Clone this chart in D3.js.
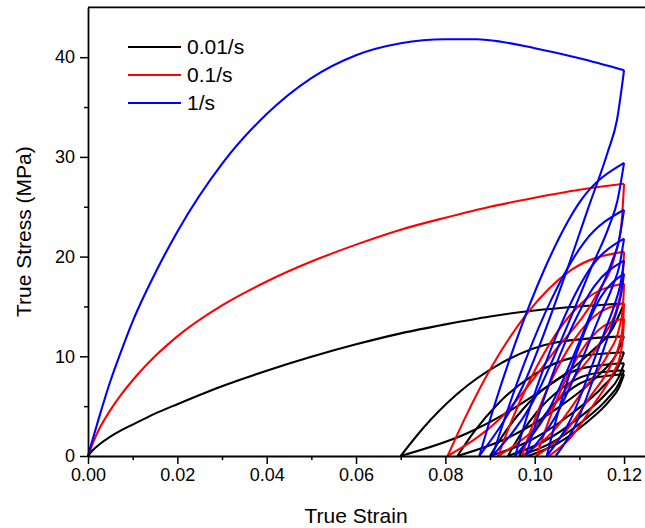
<!DOCTYPE html>
<html><head><meta charset="utf-8">
<script src="https://cdn.jsdelivr.net/npm/d3@7"></script>
<style>body{margin:0;background:#fff}svg{display:block}text{font-family:"Liberation Sans",Arial,sans-serif;fill:#000}</style>
</head><body><svg id="c" width="645" height="528"></svg>
<script>
// ---- data ----
const seriesNames = ["0.01/s", "0.1/s", "1/s"];
const seriesColors = ["#000000", "#ff0000", "#0000ff"];
const xTicks = [0, 0.02, 0.04, 0.06, 0.08, 0.10, 0.12];
const xMinor = [0.01, 0.03, 0.05, 0.07, 0.09, 0.11];
const yTicks = [0, 10, 20, 30, 40];
const yMinor = [5, 15, 25, 35];

// each segment: [strain, stress] points, strain ascending
const blackSegments = [
  [[0,0],[0.001,0.55],[0.0025,1.15],[0.005,1.95],[0.0075,2.6],[0.01,3.15],[0.015,4.25],[0.02,5.2],[0.03,7.0],[0.04,8.55],[0.05,9.95],[0.06,11.2],[0.07,12.3],[0.08,13.2],[0.09,14.0],[0.10,14.6],[0.11,15.0],[0.12,15.3]],
  [[0.0700,0],[0.0850,2.30],[0.1000,6.12],[0.1125,10.40],[0.1175,12.85],[0.12,15.3]],
  [[0.0700,0],[0.0750,2.78],[0.0825,6.16],[0.0925,9.31],[0.1050,11.41],[0.12,12.0]],
  [[0.0827,0],[0.0939,1.80],[0.1051,4.80],[0.1144,8.16],[0.1181,10.08],[0.12,12.0]],
  [[0.0827,0],[0.0864,2.41],[0.0920,5.34],[0.0995,8.07],[0.1088,9.89],[0.12,10.4]],
  [[0.0900,0],[0.0990,1.56],[0.1080,4.16],[0.1155,7.07],[0.1185,8.74],[0.12,10.4]],
  [[0.0900,0],[0.0930,2.16],[0.0975,4.77],[0.1035,7.22],[0.1110,8.84],[0.12,9.3]],
  [[0.0940,0],[0.1018,1.40],[0.1096,3.72],[0.1161,6.32],[0.1187,7.81],[0.12,9.3]],
  [[0.0940,0],[0.0966,2.00],[0.1005,4.41],[0.1057,6.67],[0.1122,8.18],[0.12,8.6]],
  [[0.0965,0],[0.1036,1.29],[0.1106,3.44],[0.1165,5.85],[0.1188,7.22],[0.12,8.6]],
  [[0.0965,0],[0.0989,1.90],[0.1024,4.21],[0.1071,6.36],[0.1130,7.80],[0.12,8.2]],
  [[0.0985,0],[0.1050,1.23],[0.1114,3.28],[0.1168,5.58],[0.1189,6.89],[0.12,8.2]]
];
const redSegments = [
  [[0,0],[0.001,1.2],[0.0025,2.7],[0.005,4.6],[0.0075,6.2],[0.01,7.6],[0.015,10.0],[0.02,12.0],[0.03,15.1],[0.04,17.5],[0.05,19.5],[0.06,21.2],[0.07,22.7],[0.08,23.9],[0.09,25.0],[0.10,25.9],[0.11,26.7],[0.12,27.3]],
  [[0.0805,0],[0.0924,3.82],[0.1042,10.37],[0.1141,16.38],[0.1180,20.2],[0.1194,23.2],[0.12,27.3]],
  [[0.0805,0],[0.0845,3.90],[0.0904,8.97],[0.0983,14.30],[0.1082,18.66],[0.12,20.5]],
  [[0.0918,0],[0.1003,2.87],[0.1087,7.79],[0.1158,12.30],[0.1186,15.17],[0.1196,17.43],[0.12,20.5]],
  [[0.0918,0],[0.0946,3.29],[0.0989,7.57],[0.1045,12.07],[0.1115,15.74],[0.12,17.3]],
  [[0.0971,0],[0.1040,2.42],[0.1108,6.57],[0.1166,10.38],[0.1189,12.80],[0.1197,14.71],[0.12,17.3]],
  [[0.0971,0],[0.0994,2.91],[0.1028,6.69],[0.1074,10.67],[0.1131,13.92],[0.12,15.3]],
  [[0.1004,0],[0.1063,2.14],[0.1122,5.81],[0.1171,9.18],[0.1190,11.32],[0.1197,13.0],[0.12,15.3]],
  [[0.1004,0],[0.1024,2.62],[0.1053,6.04],[0.1092,9.63],[0.1141,12.56],[0.12,13.8]],
  [[0.1032,0],[0.1082,1.93],[0.1133,5.24],[0.1175,8.28],[0.1192,10.21],[0.1197,11.73],[0.12,13.8]]
];
const blueSegments = [
  [[0,0],[0.001,1.6],[0.0025,3.9],[0.005,7.5],[0.0075,10.6],[0.01,13.5],[0.015,18.3],[0.02,22.5],[0.03,29.3],[0.04,34.3],[0.05,37.9],[0.06,40.2],[0.07,41.4],[0.08,41.8],[0.087,41.8],[0.09,41.7],[0.10,40.9],[0.11,39.9],[0.12,38.7]],
  [[0.0876,0],[0.0973,6.97],[0.1064,17.61],[0.1119,24.77],[0.1164,30.57],[0.1184,33.67],[0.12,38.7]],
  [[0.0876,0],[0.0908,4.82],[0.0957,11.38],[0.1022,18.76],[0.1103,25.61],[0.12,29.4]],
  [[0.0905,0],[0.0994,5.29],[0.1076,13.38],[0.1126,18.82],[0.1168,23.23],[0.1185,25.58],[0.12,29.4]],
  [[0.0905,0],[0.0935,4.05],[0.0979,9.56],[0.1038,15.76],[0.1112,21.51],[0.12,24.7]],
  [[0.0956,0],[0.1029,4.45],[0.1098,11.24],[0.1139,15.81],[0.1173,19.51],[0.1188,21.49],[0.12,24.7]],
  [[0.0956,0],[0.0980,3.58],[0.1017,8.44],[0.1066,13.91],[0.1127,18.99],[0.12,21.8]],
  [[0.0980,0],[0.1046,3.92],[0.1108,9.92],[0.1145,13.95],[0.1176,17.22],[0.1189,18.97],[0.12,21.8]],
  [[0.0980,0],[0.1002,3.21],[0.1035,7.59],[0.1079,12.50],[0.1134,17.07],[0.12,19.6]],
  [[0.1027,0],[0.1079,3.53],[0.1127,8.92],[0.1157,12.54],[0.1181,15.48],[0.1191,17.05],[0.12,19.6]],
  [[0.1027,0],[0.1044,3.00],[0.1070,7.08],[0.1105,11.68],[0.1148,15.94],[0.12,18.3]],
  [[0.1047,0],[0.1093,3.29],[0.1136,8.33],[0.1162,11.71],[0.1183,14.46],[0.1192,15.92],[0.12,18.3]]
];
const allSegments = [blackSegments, redSegments, blueSegments];

// ---- drawing ----
const svg = d3.select("#c");
const x = d3.scaleLinear().domain([0, 0.125]).range([88, 646.4]);
const y = d3.scaleLinear().domain([0, 45]).range([456, 7.35]);

const line = d3.line().x(d => x(d[0])).y(d => y(d[1])).curve(d3.curveMonotoneX);

const plot = svg.append("g");
allSegments.forEach((segs, i) => {
  plot.selectAll(null).data(segs).enter().append("path")
    .attr("d", line).attr("fill", "none")
    .attr("stroke", seriesColors[i]).attr("stroke-width", 2.1)
    .attr("stroke-linejoin", "round");
});

// axes
const xAxis = svg.append("g").attr("transform", `translate(0,${y(0)})`)
  .call(d3.axisBottom(x).tickValues(xTicks).tickFormat(d3.format(".2f")).tickSize(8).tickSizeOuter(0).tickPadding(4));
const xAxisMinor = svg.append("g").attr("transform", `translate(0,${y(0)})`)
  .call(d3.axisBottom(x).tickValues(xMinor).tickFormat("").tickSize(4).tickSizeOuter(0));
const yAxis = svg.append("g").attr("transform", `translate(${x(0)},0)`)
  .call(d3.axisLeft(y).tickValues(yTicks).tickFormat(d3.format("d")).tickSize(8).tickSizeOuter(0).tickPadding(5));
const yAxisMinor = svg.append("g").attr("transform", `translate(${x(0)},0)`)
  .call(d3.axisLeft(y).tickValues(yMinor).tickFormat("").tickSize(4).tickSizeOuter(0));
[xAxis, xAxisMinor, yAxis, yAxisMinor].forEach(g => {
  g.select(".domain").attr("stroke", "#000").attr("stroke-width", 1.8);
  g.selectAll(".tick line").attr("stroke", "#000").attr("stroke-width", 1.5);
  g.selectAll(".tick text").attr("font-size", 18).attr("font-family", "Liberation Sans, Arial, sans-serif").attr("fill", "#000");
});
xAxisMinor.select(".domain").remove();
yAxisMinor.select(".domain").remove();
// top frame
svg.append("line").attr("x1", x(0)).attr("x2", 645).attr("y1", y(45)).attr("y2", y(45))
  .attr("stroke", "#000").attr("stroke-width", 1.8);

// titles
svg.append("text").attr("x", (x(0) + x(0.12)) / 2).attr("y", 523)
  .attr("text-anchor", "middle").attr("font-size", 21).text("True Strain");
svg.append("text").attr("transform", `translate(31,${(y(0) + y(45)) / 2}) rotate(-90)`)
  .attr("text-anchor", "middle").attr("font-size", 21).text("True Stress (MPa)");

// legend
const legendY = [47, 75, 103];
const lg = svg.append("g");
seriesNames.forEach((name, i) => {
  lg.append("line").attr("x1", 128).attr("x2", 181).attr("y1", legendY[i]).attr("y2", legendY[i])
    .attr("stroke", seriesColors[i]).attr("stroke-width", 2.1);
  lg.append("text").attr("x", 187).attr("y", legendY[i]).attr("dy", "0.35em")
    .attr("font-size", 21).text(name);
});
</script></body></html>
